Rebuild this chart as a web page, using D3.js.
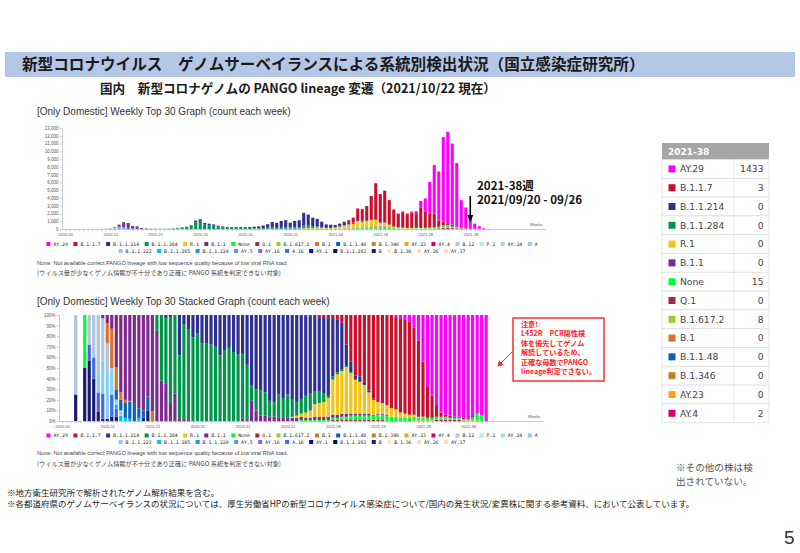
<!DOCTYPE html>
<html lang="ja">
<head>
<meta charset="utf-8">
<script src="https://cdn.jsdelivr.net/npm/d3@7"></script>
<style>
  body { margin: 0; background: #fff; }
  svg { display: block; font-family: "Liberation Sans", Arial, sans-serif; }
  .jp { font-family: "Noto Sans CJK JP", sans-serif; }
  .axis text { font-size: 4px; fill: #555; font-family: "Liberation Sans", Arial, sans-serif; }
  .axis path, .axis line { stroke: #999; stroke-width: 0.5; }
  .legend text { font-family: "DejaVu Sans Mono", monospace; font-size: 4.8px; fill: #222; }
</style>
</head>
<body>
<svg width="800" height="553"></svg>
<script>
// lineages in legend order (first one sits on top of each stack)
var lineages = ['AY.29','B.1.1.7','B.1.1.214','B.1.1.284','R.1','B.1.1','None','Q.1','B.1.617.2','B.1',
    'B.1.1.48','B.1.346','AY.23','AY.4','B.12','P.1','AY.24','A',
    'B.1.1.222','B.1.1.285','B.1.1.220','AY.5','AY.16','A.16','AY.1','B.1.1.283','B','B.1.36','AY.26','AY.37'];
var lineageColors = ['#ff00ff','#c8102e','#2e3192','#00964b','#f5c314','#7d2a8f','#00ff33','#9b2d48','#9acd32','#e07028',
    '#0a64b4','#b8862b','#ff9e1a','#d1006b','#b0c4de','#aeeeee','#a8d8ea','#87ceeb',
    '#87cefa','#00bfff','#1e90ff','#6495ed','#7b68ee','#4169e1','#0000cd','#000080','#191970','#ffe4c4','#ffdab9','#ffdead'];

var weekLabels = [
    '2020-01','2020-02','2020-03','2020-04','2020-05','2020-06','2020-07','2020-08','2020-09','2020-10',
    '2020-11','2020-12','2020-13','2020-14','2020-15','2020-16','2020-17','2020-18','2020-19','2020-20',
    '2020-21','2020-22','2020-23','2020-24','2020-25','2020-26','2020-27','2020-28','2020-29','2020-30',
    '2020-31','2020-32','2020-33','2020-34','2020-35','2020-36','2020-37','2020-38','2020-39','2020-40',
    '2020-41','2020-42','2020-43','2020-44','2020-45','2020-46','2020-47','2020-48','2020-49','2020-50',
    '2020-51','2020-52','2020-53','2021-01','2021-02','2021-03','2021-04','2021-05','2021-06','2021-07',
    '2021-08','2021-09','2021-10','2021-11','2021-12','2021-13','2021-14','2021-15','2021-16','2021-17',
    '2021-18','2021-19','2021-20','2021-21','2021-22','2021-23','2021-24','2021-25','2021-26','2021-27',
    '2021-28','2021-29','2021-30','2021-31','2021-32','2021-33','2021-34','2021-35','2021-36','2021-37',
    '2021-38','2021-39','2021-40','2021-41','2021-42'];
var weekTickLabels = ['2020-01','2020-11','2020-21','2020-31','2020-41','2020-51','2021-08','2021-18','2021-28','2021-38'];

// sequences counted each week (all lineages)
var weeklyTotal = [
    0,0,0,3,0,4,8,12,30,60,
    110,260,560,880,770,380,330,130,70,40,
    30,25,30,50,90,140,200,290,500,1080,
    1250,780,680,600,430,340,270,250,240,250,
    260,270,300,340,440,620,900,800,1040,1130,
    820,1040,1130,2080,1860,1470,1300,950,600,560,
    520,700,950,1130,1470,2640,2560,2950,4250,5890,
    4500,4940,3720,2510,2000,2250,2000,2250,2300,3600,
    3940,6060,8230,7400,11830,12520,11000,8490,3720,2770,
    1461,700,350,90,12];

// weekly share (%) per lineage: pairs of (first week index, values); weeks not listed are 0
function at() {
    var a = weekLabels.map(function() { return 0; });
    for (var p = 0; p < arguments.length; p += 2) {
        var start = arguments[p];
        arguments[p + 1].forEach(function(v, k) { a[start + k] = v; });
    }
    return a;
}
var shareAY29 = at(74, [2,3,4,6,12,24,44,68,76,85,92,94,95,96,96,97,98.1,97,93,95,100]);
var shareB117 = at(54, [1,1,1,2,2,3,3,4,7,28,44,57,58,63,71,79,82,84,85,87,87,89,89,89,82,72,52,29,21,11,4,2,2,1,1,1,0.2]);
var shareB11214 = at(23, [3,2,0,38,9,14,21,17,27,27,28,30,38,33,31,35,37,37,47,66,70,70,73,81,82,75,79,75,80,82,
    80,76,74,72,71,73,74,55,50,44,20,10,4,5,3,2,1]);
var shareB11284 = at(21, [15,62,62,81,74,60,89,86,79,83,73,73,72,70,62,67,69,65,63,62,52,15,20,24,22,15,14,22,18,22,
    16,13,14,16,16,12,11,8,2,3,2,2,1,1]);
var shareR1 = at(51, [1,2,3,5,7,12,13,14,18,33,38,40,44,38,32,30,27,20,14,11,10,9,8,7,5,4,3,2,1,1]);
var shareB11 = at(9, [3,8,13,51,73,80,81,83,88,90,77,91,85,38,36,17,26,2,2,1,0,0,0,0,0,0,0,0,0,0,0,
    1,1,19,10,5,5,4,4,3,3,3,3,3,3,2,2,3,3,3,3,3,3,3,3,2,2,2,2,2,1,1,1,1]);
var shareNone = at(5, [50], 53, [1,1,1,1,1,1,1,2,2,3,3,4,4,4,4,4,4,5,5,5,4,4,3,3,3,3,2,2,2,2,2,2,2,1,1,1,1,1.0,2,6,5]);
var shareQ1 = at(40, [1], 60, [1,1,1,1,1,1,1,1,1,1,1,1]);
var shareB16172 = at(78, [1,1,1,1,1,1,1,1,1,1,1,1,0.5,1,1]);
var shareAY4 = at(83, [1,1,1,1,1,1,0,0.1]);
var shareB1 = at(10, [19,37,22,7,3,1,0,0,0,0,9]);
var shareB1148 = at(12, [10,10,14,16,17,9,7,13]);
var shareB12 = at(3, [75,0,0,28,40,55,40,26,3]);
var shareA = at(8, [18,31,45,22,4]);
var shareB11222 = at(12, [1,5]);
var shareB11285 = at(12, [4,5,3,2,0,3]);
var shareA16 = at(6, [15,20,18,24,0,21,8]);
var shareB = at(3, [25,0,50,57,40,9,2,2,4,4,0,0,0,0,0,3,10]);
var zeroShare = at();

var shareSeries = {
    'AY.29': shareAY29, 'B.1.1.7': shareB117, 'B.1.1.214': shareB11214, 'B.1.1.284': shareB11284,
    'R.1': shareR1, 'B.1.1': shareB11, 'None': shareNone, 'Q.1': shareQ1, 'B.1.617.2': shareB16172,
    'AY.4': shareAY4, 'B.1': shareB1, 'B.1.1.48': shareB1148, 'B.12': shareB12, 'A': shareA,
    'B.1.1.222': shareB11222, 'B.1.1.285': shareB11285, 'A.16': shareA16, 'B': shareB
};

// right-hand table, week 2021-38
var tableWeek = '2021-38';
var tableLabels = ['AY.29','B.1.1.7','B.1.1.214','B.1.1.284','R.1','B.1.1','None','Q.1','B.1.617.2','B.1','B.1.1.48','B.1.346','AY.23','AY.4'];
var tableValues = [1433,3,0,0,0,0,15,0,8,0,0,0,0,2];

function shareOf(l) { return shareSeries[l] || zeroShare; }
function colorOf(l) { return lineageColors[lineages.indexOf(l)]; }

var countRows = [], pctRows = [];
weekLabels.forEach(function(w, i) {
    var sum = d3.sum(lineages, function(l) { return shareOf(l)[i]; });
    var c = {week: w, i: i}, p = {week: w, i: i};
    lineages.forEach(function(l) {
        var s = sum ? shareOf(l)[i] / sum : 0;
        c[l] = s * weeklyTotal[i];
        p[l] = s;
    });
    countRows.push(c);
    pctRows.push(p);
});
var stack = d3.stack().keys(lineages.slice().reverse());

var svg = d3.select('svg');

// ---- slide headings
svg.append('rect').attr('x', 5).attr('y', 52).attr('width', 790).attr('height', 25).attr('fill', '#b4c7e7');
svg.append('text').attr('class', 'jp').attr('x', 22).attr('y', 69.5)
    .style('font-size', '15.6px').style('font-weight', 'bold').attr('fill', '#1a1a1a')
    .text('新型コロナウイルス　ゲノムサーベイランスによる系統別検出状況（国立感染症研究所）');
svg.append('text').attr('class', 'jp').attr('x', 100).attr('y', 92.5)
    .style('font-size', '12.6px').style('font-weight', 'bold').attr('fill', '#1a1a1a')
    .text('国内　新型コロナゲノムの PANGO lineage 変遷（2021/10/22 現在）');

// ---- shared drawing helpers
function drawBars(g, rows, x, y, w) {
    g.selectAll('g.layer').data(stack(rows)).enter().append('g')
        .attr('class', 'layer')
        .attr('fill', function(d) { return colorOf(d.key); })
        .selectAll('rect')
        .data(function(d) { return d.filter(function(s) { return s[1] - s[0] > 0; }); })
        .enter().append('rect')
        .attr('x', function(s) { return x(s.data.i) - w / 2; })
        .attr('y', function(s) { return y(s[1]); })
        .attr('width', w)
        .attr('height', function(s) { return y(s[0]) - y(s[1]); });
}

function drawXAxis(x, yPos) {
    svg.append('g').attr('class', 'axis')
        .attr('transform', 'translate(0,' + yPos + ')')
        .call(d3.axisBottom(x).tickValues(d3.range(weekLabels.length)).tickSize(2).tickSizeOuter(0).tickPadding(2.5)
            .tickFormat(function(i) { return weekTickLabels.indexOf(weekLabels[i]) >= 0 ? weekLabels[i] : ''; }));
    svg.append('text').attr('x', x.range()[1] - 15).attr('y', yPos - 3)
        .style('font-size', '4px').attr('fill', '#555').text('Weeks');
}

function drawLegend(yRow1, yRow2) {
    [lineages.slice(0, 18), lineages.slice(18)].forEach(function(row, r) {
        var g = svg.append('g').attr('class', 'legend');
        var cx = 0;
        row.forEach(function(name) {
            var item = g.append('g').attr('transform', 'translate(' + cx + ',0)');
            item.append('rect').attr('x', 0).attr('y', -2).attr('width', 4).attr('height', 4).attr('fill', colorOf(name));
            var t = item.append('text').attr('x', 7).attr('y', 1.7).text(name);
            cx += 7 + t.node().getComputedTextLength() + 5.5;
        });
        g.attr('transform', 'translate(' + (292 - (cx - 5.5) / 2) + ',' + (r ? yRow2 : yRow1) + ')');
    });
}

function drawNotes(y1, y2) {
    svg.append('text').attr('x', 37).attr('y', y1).style('font-size', '5.6px').attr('fill', '#444')
        .text('None: Not available correct PANGO lineage with low sequence quality because of low viral RNA load.');
    svg.append('text').attr('class', 'jp').attr('x', 37).attr('y', y2).style('font-size', '6.2px').attr('fill', '#444')
        .text('(ウイルス量が少なくゲノム情報が不十分であり正確に PANGO 系統を判定できない対象)');
}

// ---- top: weekly counts
svg.append('text').attr('x', 37).attr('y', 115).style('font-size', '10px').attr('fill', '#333')
    .text('[Only Domestic] Weekly Top 30 Graph (count each week)');

var xTop = d3.scaleLinear().domain([-0.7, 106.6]).range([62, 545]);
var yTop = d3.scaleLinear().domain([0, 13000]).range([229, 128]);

svg.append('g').attr('class', 'axis').attr('transform', 'translate(62,0)')
    .call(d3.axisLeft(yTop).tickValues(d3.range(0, 13001, 1000)).tickSize(2).tickSizeOuter(0).tickPadding(1.5))
    .selectAll('text').style('font-size', '4.5px');
drawBars(svg.append('g'), countRows, xTop, yTop, 3.1);
drawXAxis(xTop, 229);
drawLegend(244, 251);
drawNotes(264.5, 275);

// 2021-38 marker
svg.append('text').attr('class', 'jp').attr('x', 477).attr('y', 189.5)
    .style('font-size', '11.6px').style('font-weight', 'bold').attr('fill', '#111').text('2021-38週');
svg.append('text').attr('class', 'jp').attr('x', 477).attr('y', 204)
    .style('font-size', '11.6px').style('font-weight', 'bold').attr('fill', '#111').text('2021/09/20 - 09/26');
svg.append('line').attr('x1', xTop(90)).attr('x2', xTop(90)).attr('y1', 196).attr('y2', 216)
    .attr('stroke', '#000').attr('stroke-width', 1.6);
svg.append('path').attr('fill', '#000')
    .attr('d', 'M' + (xTop(90) - 3) + ',215 L' + (xTop(90) + 3) + ',215 L' + xTop(90) + ',222 Z');

// ---- bottom: weekly share
svg.append('text').attr('x', 37).attr('y', 305).style('font-size', '10px').attr('fill', '#333')
    .text('[Only Domestic] Weekly Top 30 Stacked Graph (count each week)');

var xPct = d3.scaleLinear().domain([-0.7, 106.6]).range([59, 543]);
var yPct = d3.scaleLinear().domain([0, 1]).range([421, 315]);

svg.append('g').attr('class', 'axis').attr('transform', 'translate(59,0)')
    .call(d3.axisLeft(yPct).tickValues(d3.range(0, 11).map(function(k) { return k / 10; }))
        .tickFormat(d3.format('.0%')).tickSize(2).tickSizeOuter(0).tickPadding(1.5))
    .selectAll('text').style('font-size', '4.5px');
drawBars(svg.append('g'), pctRows, xPct, yPct, 3.2);
drawXAxis(xPct, 421);
drawLegend(435.5, 442);
drawNotes(455, 466);

// caution box
svg.append('rect').attr('x', 513).attr('y', 318).attr('width', 91).attr('height', 63)
    .attr('fill', '#fff').attr('stroke', '#ff2020').attr('stroke-width', 1.4);
var cautionLines = ['注意!', 'L452R　PCR陽性検', '体を優先してゲノム', '解読しているため、', '正確な母数でPANGO', 'lineage判定できない。'];
svg.append('g').selectAll('text').data(cautionLines).enter().append('text')
    .attr('class', 'jp').attr('x', 521).attr('y', function(d, k) { return 327 + k * 9.4; })
    .style('font-size', '7.1px').style('font-weight', 'bold').attr('fill', '#ff1a1a')
    .text(function(d) { return d; });
svg.append('line').attr('x1', 512).attr('y1', 352).attr('x2', 501).attr('y2', 363)
    .attr('stroke', '#ff2020').attr('stroke-width', 1);
svg.append('path').attr('fill', '#ff2020').attr('d', 'M497.5,366.5 L499,360.5 L503.5,365 Z');

// ---- right table
var tX = 662, tW = 107, tHeadY = 143, tHeadH = 16.5, tRowH = 18.8, tColX = 734;
svg.append('rect').attr('x', tX).attr('y', tHeadY).attr('width', tW).attr('height', tHeadH).attr('fill', '#a6a6a6');
svg.append('text').attr('x', tX + 6).attr('y', tHeadY + 12).style('font-family', '"DejaVu Sans", sans-serif')
    .style('font-size', '9px').style('font-weight', 'bold').attr('fill', '#fff').text(tableWeek);

var tRows = svg.append('g').selectAll('g').data(tableLabels).enter().append('g')
    .attr('transform', function(d, k) { return 'translate(' + tX + ',' + (tHeadY + tHeadH + k * tRowH) + ')'; });
tRows.append('rect').attr('width', tW).attr('height', tRowH).attr('fill', '#fff')
    .attr('stroke', '#dcdcdc').attr('stroke-width', 0.8);
tRows.append('rect').attr('x', 6.5).attr('y', tRowH / 2 - 3.5).attr('width', 7).attr('height', 7)
    .attr('fill', function(d) { return colorOf(d); });
tRows.append('text').attr('x', 18).attr('y', tRowH / 2 + 3.3)
    .style('font-family', '"DejaVu Sans", sans-serif').style('font-size', '9.2px').attr('fill', '#444')
    .text(function(d) { return d; });
tRows.append('text').attr('x', tW - 5.5).attr('y', tRowH / 2 + 3.3).attr('text-anchor', 'end')
    .style('font-family', '"DejaVu Sans", sans-serif').style('font-size', '9.2px').attr('fill', '#444')
    .text(function(d, k) { return tableValues[k]; });
svg.append('line').attr('x1', tColX).attr('x2', tColX)
    .attr('y1', tHeadY + tHeadH).attr('y2', tHeadY + tHeadH + tableLabels.length * tRowH)
    .attr('stroke', '#bbb').attr('stroke-width', 0.8).attr('stroke-dasharray', '1,1');

svg.append('text').attr('class', 'jp').attr('x', 676).attr('y', 470.5)
    .style('font-size', '9.6px').attr('fill', '#555').text('※その他の株は検');
svg.append('text').attr('class', 'jp').attr('x', 676).attr('y', 485)
    .style('font-size', '9.6px').attr('fill', '#555').text('出されていない。');

// ---- footnotes
svg.append('text').attr('class', 'jp').attr('x', 7).attr('y', 495.5)
    .style('font-size', '8.5px').attr('fill', '#222').text('※地方衛生研究所で解析されたゲノム解析結果を含む。');
svg.append('text').attr('class', 'jp').attr('x', 7).attr('y', 506.5)
    .style('font-size', '8.5px').attr('fill', '#222')
    .text('※各都道府県のゲノムサーベイランスの状況については、厚生労働省HPの新型コロナウイルス感染症について/国内の発生状況/変異株に関する参考資料、において公表しています。');
svg.append('text').attr('x', 784).attr('y', 544).style('font-size', '19px').attr('fill', '#333').text('5');
</script>
</body>
</html>
